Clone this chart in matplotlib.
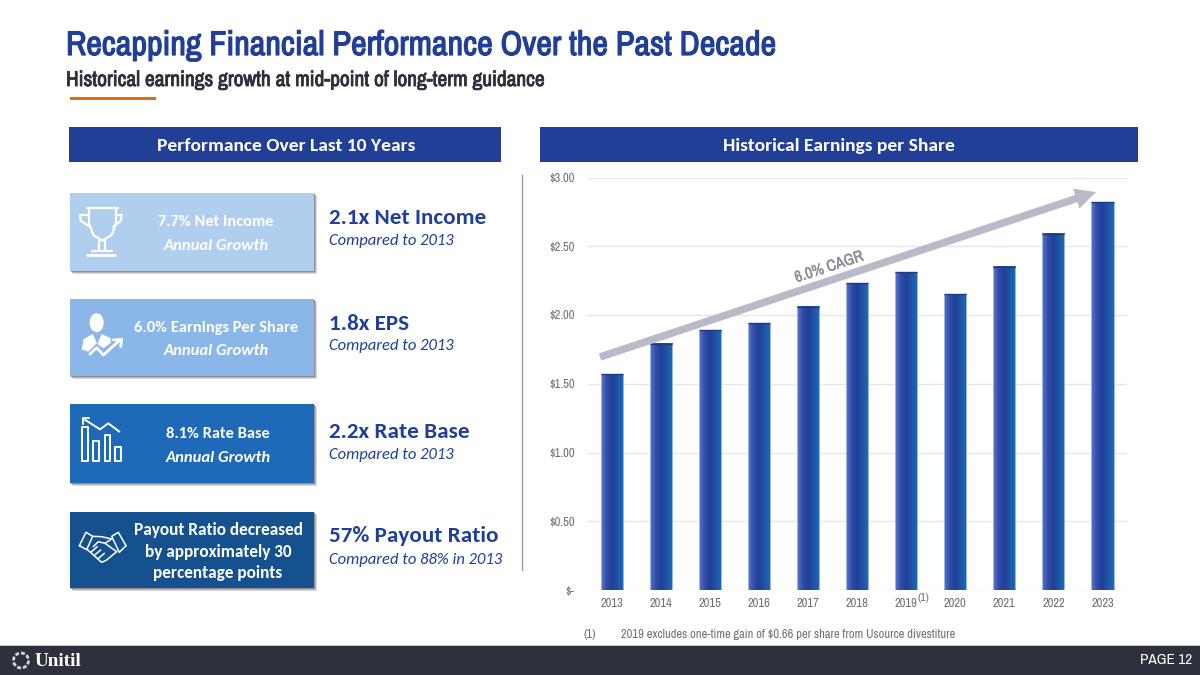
import numpy as np
import matplotlib
matplotlib.use('Agg')
import matplotlib.pyplot as plt
import matplotlib.patheffects as pe
from matplotlib.patches import Rectangle, Ellipse, Polygon, Arc
from matplotlib.colors import LinearSegmentedColormap
from matplotlib import font_manager

years = ['2013', '2014', '2015', '2016', '2017', '2018', '2019', '2020', '2021', '2022', '2023']
eps = [1.57, 1.79, 1.89, 1.94, 2.06, 2.23, 2.31, 2.15, 2.35, 2.59, 2.82]
y_ticks = [0, 0.5, 1.0, 1.5, 2.0, 2.5, 3.0]
y_labels = ['\\$-', '\\$0.50', '\\$1.00', '\\$1.50', '\\$2.00', '\\$2.50', '\\$3.00']

card_top = ['7.7% Net Income', '6.0% Earnings Per Share', '8.1% Rate Base']
card_sub = 'Annual Growth'
big_text = ['2.1x Net Income', '1.8x EPS', '2.2x Rate Base', '57% Payout Ratio']
small_text = ['Compared to 2013', 'Compared to 2013', 'Compared to 2013', 'Compared to 88% in 2013']

BLUE = '#223F98'
GREY = '#6E7079'

names = {f.name for f in font_manager.fontManager.ttflist}


def pick(options):
    for n in options:
        if n in names:
            return n
    return 'Liberation Sans'


NARROW = pick(['Liberation Sans Narrow', 'Arimo Narrow', 'Archivo Narrow', 'Roboto Condensed', 'PT Sans Narrow'])
BODY = pick(['Carlito', 'Open Sans'])

fig = plt.figure(figsize=(12, 6.75), dpi=100, facecolor='white')

# chart axes, gridlines run 587..1127 px, $0 at 590 and $3 at 177.5
ax = fig.add_axes([587 / 1200, 1 - 590 / 675, 540 / 1200, 412.5 / 675], facecolor='none')
bars = ax.bar(range(len(years)), eps, width=0.45, color='none', edgecolor='#9DB8E8', linewidth=0.7, zorder=3)
cmap = LinearSegmentedColormap.from_list('bar', ['#5C78CC', '#2F4CA8', '#223F98', '#1D57A8', '#1E6BB8'])
grad = np.linspace(0, 1, 64).reshape(1, -1)
for b in bars:
    x0, w, h = b.get_x(), b.get_width(), b.get_height()
    ax.imshow(grad, cmap=cmap, extent=[x0, x0 + w, 0, h], aspect='auto', zorder=2)
    ax.plot([x0, x0 + w], [h, h], color='#1D3A80', lw=1.0, zorder=4, solid_capstyle='butt')
ax.set_xlim(-0.5, 10.5)
ax.set_ylim(0, 3)
ax.set_yticks(y_ticks)
ax.set_yticklabels(y_labels, fontfamily=NARROW, fontsize=9, color=GREY)
ax.set_xticks(range(len(years)))
ax.set_xticklabels(years, fontfamily=NARROW, fontsize=9, color=GREY)
ax.tick_params(length=0)
ax.tick_params(axis='y', pad=9)
ax.tick_params(axis='x', pad=6)
ax.grid(axis='y', color='#E6E6EC', lw=1.0, zorder=0)
ax.set_axisbelow(True)
for s in ax.spines.values():
    s.set_visible(False)

# everything else is placed in pixel coordinates on a top layer
ov = fig.add_axes([0, 0, 1, 1], facecolor='none', zorder=5)
ov.set_xlim(0, 1200)
ov.set_ylim(675, 0)
ov.axis('off')


def rect(x0, y0, x1, y1, color, z=2):
    ov.add_patch(Rectangle((x0, y0), x1 - x0, y1 - y0, facecolor=color, edgecolor='none', zorder=z))


def line(pts, ox=0, oy=0, lw=1.6, color='white'):
    xs = [ox + p[0] / 3 for p in pts]
    ys = [oy + p[1] / 3 for p in pts]
    ov.plot(xs, ys, color=color, lw=lw, zorder=6, solid_capstyle='round', solid_joinstyle='round')


# the narrow face has no bold cut here, so thicken it with a stroke
t = ov.text(66, 45, 'Recapping Financial Performance Over the Past Decade', family=NARROW,
            fontsize=24.6, color=BLUE, va='center', ha='left')
t.set_path_effects([pe.withStroke(linewidth=0.9, foreground=BLUE)])
t = ov.text(66, 80, 'Historical earnings growth at mid-point of long-term guidance', family=NARROW,
            fontsize=15.4, color='#2E313D', va='center', ha='left')
t.set_path_effects([pe.withStroke(linewidth=0.6, foreground='#2E313D')])
rect(70, 96.5, 156, 100, '#E36C0A')

rect(69, 127, 501, 162, BLUE)
rect(540, 127, 1138, 162, BLUE)
ov.text(286, 146, 'Performance Over Last 10 Years', family=BODY, weight='bold', fontsize=14,
        color='white', ha='center', va='center')
ov.text(839, 146, 'Historical Earnings per Share', family=BODY, weight='bold', fontsize=14,
        color='white', ha='center', va='center')

ov.plot([522, 522], [175, 570], color='#9A9CA5', lw=1.0, zorder=2)

# cards with shadow
cards = [(193, 271, '#B0CFEF'), (299, 376, '#8AB6E8'), (404, 483, '#1F69B9'), (512, 588, '#15508F')]
for top, bot, col in cards:
    for k, a in zip([3.0, 2.0, 1.0], ['#D8D8DC', '#B4B5BA', '#8E8F96']):
        rect(70 + k, top + k, 314 + k, bot + k, a, z=1)
    rect(70, top, 314, bot, col, z=2)

card_x = [216, 216, 218]
card_y = [(221.5, 246), (328, 351), (434, 458)]
for i in range(3):
    ov.text(card_x[i], card_y[i][0], card_top[i], family=BODY, weight='bold', fontsize=11.8, color='white',
            ha='center', va='center', zorder=6)
    ov.text(card_x[i], card_y[i][1], card_sub, family=BODY, weight='bold', style='italic', fontsize=12,
            color='white', ha='center', va='center', zorder=6)
for txt, yy in zip(['Payout Ratio decreased', 'by approximately 30', 'percentage points'], [530, 552, 573]):
    ov.text(218, yy, txt, family=BODY, weight='bold', fontsize=12.4, color='white', ha='center', va='center', zorder=6)

big_y = [217.5, 323.5, 431.5, 536.5]
small_y = [241, 346, 455, 560]
for i in range(4):
    ov.text(329, big_y[i], big_text[i], family=BODY, weight='bold', fontsize=16.7, color=BLUE, va='center')
    ov.text(329, small_y[i], small_text[i], family=BODY, style='italic', fontsize=12, color=BLUE, va='center')

# trophy
ox, oy = 60, 180
line([(80, 85), (175, 85)], ox, oy)
line([(87, 88), (87, 130), (100, 165), (127, 182), (155, 165), (168, 130), (168, 88)], ox, oy)
line([(87, 105), (60, 105), (62, 122), (90, 140)], ox, oy)
line([(168, 105), (185, 105), (183, 122), (160, 140)], ox, oy)
line([(118, 182), (118, 210)], ox, oy)
line([(135, 182), (135, 210)], ox, oy)
line([(95, 212), (155, 212)], ox, oy)
line([(80, 224), (165, 224)], ox, oy, lw=2)
# person with trend arrow
ov.add_patch(Ellipse((ox + 110 / 3, oy + 428 / 3), 14, 19, facecolor='white', zorder=6))
ov.add_patch(Polygon([(ox + 65 / 3, oy + 508 / 3), (ox + 70 / 3, oy + 478 / 3), (ox + 98 / 3, oy + 462 / 3),
                      (ox + 112 / 3, oy + 492 / 3), (ox + 125 / 3, oy + 462 / 3), (ox + 152 / 3, oy + 475 / 3),
                      (ox + 153 / 3, oy + 488 / 3), (ox + 130 / 3, oy + 505 / 3), (ox + 110 / 3, oy + 490 / 3),
                      (ox + 85 / 3, oy + 515 / 3)], facecolor='white', zorder=6))
line([(90, 522), (110, 503), (130, 525), (178, 482)], ox, oy, lw=2)
line([(160, 480), (185, 478), (182, 500)], ox, oy, lw=2)
# rate base bars
ox, oy = 60, 395
for x0, x1, y0 in [(66, 85, 95), (100, 118, 137), (134, 151, 120), (166, 183, 157)]:
    line([(x0, 197), (x0, y0), (x1, y0), (x1, 197), (x0, 197)], ox, oy, lw=1.4)
line([(68, 70), (120, 103), (145, 85), (178, 110)], ox, oy, lw=1.4)
line([(68, 88), (68, 70), (88, 70)], ox, oy, lw=1.4)
# handshake
line([(58, 452), (78, 412), (98, 424), (80, 464), (58, 452)], ox, oy, lw=1.1)
line([(198, 452), (175, 412), (155, 424), (178, 472), (198, 452)], ox, oy, lw=1.1)
line([(98, 424), (125, 425), (155, 432), (135, 445), (115, 440), (100, 455)], ox, oy, lw=1.1)
line([(80, 462), (125, 502), (140, 495), (170, 470)], ox, oy, lw=1.1)
line([(92, 472), (112, 455)], ox, oy, lw=1.1)
line([(102, 482), (122, 465)], ox, oy, lw=1.1)
line([(113, 492), (133, 475)], ox, oy, lw=1.1)
line([(135, 445), (170, 470)], ox, oy, lw=1.1)

# CAGR arrow
ov.annotate('', xy=(1096, 192), xytext=(600, 357), zorder=7,
            arrowprops=dict(arrowstyle='simple,head_length=1.25,head_width=1.25,tail_width=0.45',
                            color='#B9BAC9', lw=0, shrinkA=0, shrinkB=0, mutation_scale=12))
t = ov.text(829, 267, '6.0% CAGR', family=NARROW, fontsize=11.5, color='#8D8E98', rotation=18.4,
            rotation_mode='anchor', ha='center', va='center', zorder=7)
t.set_path_effects([pe.withStroke(linewidth=0.3, foreground='#8D8E98')])

ov.text(917, 598, '(1)', family=NARROW, fontsize=8.5, color=GREY, ha='left', va='center')
ov.text(583, 634, '(1)', family=NARROW, fontsize=9, color=GREY, va='center')
ov.text(621, 634, '2019 excludes one-time gain of \\$0.66 per share from Usource divestiture', family=NARROW,
        fontsize=8.95, color=GREY, va='center')

# footer
rect(0, 645, 1200, 675, '#2E313D')
ov.plot([0, 1200], [645, 645], color='#C9CAD0', lw=0.7, zorder=3)
ov.text(1192, 660, 'PAGE 12', family=NARROW, fontsize=11, color='white', ha='right', va='center', zorder=6)
ov.text(35, 661, 'Unitil', family='Liberation Serif', weight='bold', fontsize=13.8, color='white', va='center', zorder=6)
for a in range(0, 360, 45):
    ov.add_patch(Arc((21, 660.5), 15, 15, theta1=a, theta2=a + 30, color='#D5D5DA', lw=2, zorder=6))

fig.savefig('out.png', dpi=100, facecolor='white')
